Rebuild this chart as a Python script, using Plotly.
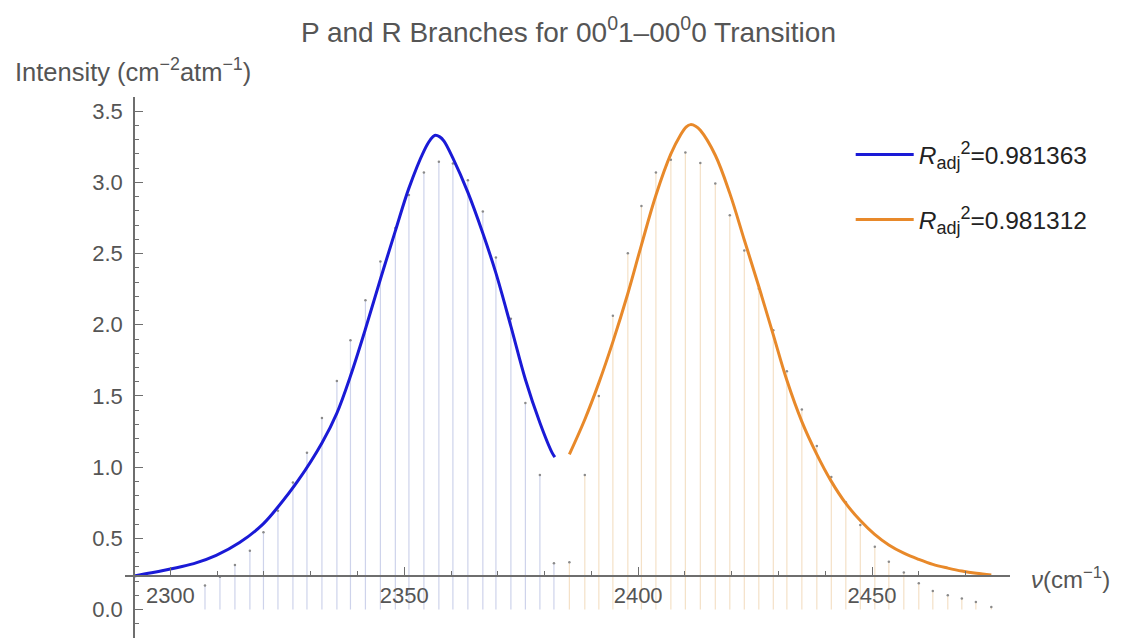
import plotly.graph_objects as go

# P 支 (蓝) 数据点
p_nu = [2307.4, 2310.6, 2313.8, 2317.0, 2319.9, 2323.0, 2326.2, 2329.2, 2332.4, 2335.6,
        2338.5, 2341.7, 2344.9, 2348.1, 2351.0, 2354.2, 2357.4, 2360.4, 2363.6, 2366.8,
        2369.6, 2372.8, 2375.9, 2379.0, 2382.0]
p_int = [0.168, 0.23, 0.313, 0.413, 0.542, 0.693, 0.892, 1.102, 1.345, 1.606,
         1.891, 2.173, 2.444, 2.68, 2.911, 3.07, 3.146, 3.133, 3.016, 2.796,
         2.472, 2.043, 1.45, 0.945, 0.325]

# R 支 (橙) 数据点
r_nu = [2385.3, 2388.6, 2391.6, 2394.6, 2397.8, 2400.7, 2403.8, 2407.0, 2410.1, 2413.3,
        2416.5, 2419.6, 2422.7, 2425.8, 2428.9, 2431.8, 2435.0, 2438.2, 2441.3, 2444.4,
        2447.5, 2450.6, 2453.6, 2456.8, 2460.0, 2463.0, 2466.2, 2469.2, 2472.2, 2475.5]
r_int = [0.332, 0.945, 1.5, 2.064, 2.503, 2.835, 3.07, 3.16, 3.21, 3.137,
         2.993, 2.77, 2.521, 2.253, 1.962, 1.674, 1.405, 1.148, 0.931, 0.754,
         0.593, 0.441, 0.336, 0.26, 0.185, 0.131, 0.1, 0.078, 0.053, 0.017]

# 拟合曲线
p_fit_x = [2292.2, 2296.0, 2300.0, 2305.0, 2309.8, 2314.8, 2319.8, 2323.0, 2327.4, 2332.4,
           2335.6, 2338.5, 2341.7, 2344.9, 2348.1, 2351.0, 2354.2, 2355.6, 2356.5, 2357.6,
           2358.5, 2360.4, 2363.6, 2366.8, 2369.6, 2372.8, 2375.9, 2379.0, 2381.6, 2382.2]
p_fit_y = [0.236, 0.258, 0.285, 0.322, 0.38, 0.47, 0.60, 0.72, 0.91, 1.17,
           1.38, 1.64, 1.97, 2.32, 2.66, 2.96, 3.22, 3.30, 3.33, 3.32,
           3.29, 3.17, 2.93, 2.643, 2.363, 1.989, 1.616, 1.312, 1.102, 1.07]

r_fit_x = [2385.3, 2388.6, 2391.6, 2394.6, 2397.8, 2400.7, 2403.8, 2407.0, 2409.0, 2410.3,
           2411.2, 2412.3, 2413.3, 2416.5, 2419.6, 2422.7, 2425.8, 2428.8, 2431.8, 2435.0,
           2438.2, 2441.3, 2444.4, 2447.5, 2450.5, 2453.6, 2456.8, 2460.0, 2463.0, 2466.2,
           2469.2, 2472.3, 2475.5]
r_fit_y = [1.09, 1.335, 1.592, 1.88, 2.22, 2.56, 2.91, 3.20, 3.33, 3.39,
           3.406, 3.395, 3.366, 3.191, 2.923, 2.596, 2.269, 1.94, 1.61, 1.32,
           1.09, 0.90, 0.745, 0.625, 0.53, 0.454, 0.396, 0.352, 0.317, 0.291,
           0.27, 0.254, 0.242]

r2_labels = ['0.981363', '0.981312']

# 配色
C_BLUE = '#1a1ad6'
C_ORANGE = '#e8892a'
C_STEM_B = 'rgba(190,196,228,0.75)'
C_STEM_O = 'rgba(240,215,180,0.75)'
C_AXIS = '#6e6e6e'
C_TEXT = '#555555'
FONT = 'Liberation Sans, Arial, sans-serif'

X_RANGE = [2290.3, 2479.5]
Y_RANGE = [-0.2, 3.6]
X_ORIGIN = 2292.2
Y_ORIGIN = 0.234


def stems(xs, ys):
    sx, sy = [], []
    for x, y in zip(xs, ys):
        sx += [x, x, None]
        sy += [0, y, None]
    return sx, sy


fig = go.Figure()

for xs, ys, c in [(p_nu, p_int, C_STEM_B), (r_nu, r_int, C_STEM_O)]:
    sx, sy = stems(xs, ys)
    fig.add_trace(go.Scatter(x=sx, y=sy, mode='lines', line=dict(color=c, width=1.2),
                             showlegend=False, hoverinfo='skip'))
    fig.add_trace(go.Scatter(x=xs, y=ys, mode='markers', showlegend=False,
                             marker=dict(color='#8a8a8a', size=2.5)))


def r2_name(v):
    return ('<i>R</i><sub><span style="font-size:18px">adj</span></sub>'
            f'<sup><span style="font-size:18px">2</span></sup>={v}')


fig.add_trace(go.Scatter(
    x=p_fit_x, y=p_fit_y, mode='lines', line=dict(color=C_BLUE, width=3, shape='spline'),
    name=r2_name(r2_labels[0]), legendgroup='a',
))
fig.add_trace(go.Scatter(
    x=r_fit_x, y=r_fit_y, mode='lines', line=dict(color=C_ORANGE, width=3, shape='spline'),
    name=r2_name(r2_labels[1]), legendgroup='b',
))

fig.update_layout(
    width=1121, height=638,
    plot_bgcolor='white', paper_bgcolor='white',
    margin=dict(l=117, r=119, t=89, b=8),
    font=dict(family=FONT, size=20, color=C_TEXT),
    title=dict(text='P and R Branches for 00<sup>0</sup>1\u201300<sup>0</sup>0 Transition',
               x=0.5, xref='container', y=0.962, yref='container', yanchor='middle',
               font=dict(size=28, color=C_TEXT)),
    legend=dict(x=0.82, y=0.935, xanchor='left', yanchor='top', tracegroupgap=30,
                itemwidth=58, bgcolor='rgba(0,0,0,0)', font=dict(size=24.5, color='#222222')),
    showlegend=True,
)

yfrac = (Y_ORIGIN - Y_RANGE[0]) / (Y_RANGE[1] - Y_RANGE[0])
xfrac = (X_ORIGIN - X_RANGE[0]) / (X_RANGE[1] - X_RANGE[0])

fig.update_xaxes(
    range=X_RANGE, showgrid=False, zeroline=False,
    anchor='free', position=yfrac,
    showline=True, linecolor=C_AXIS, linewidth=1.5,
    tickmode='linear', tick0=2300, dtick=50,
    ticks='inside', ticklen=8, tickcolor=C_AXIS, tickwidth=1.3,
    minor=dict(ticks='inside', dtick=10, tick0=2300, ticklen=4, tickcolor=C_AXIS),
    tickfont=dict(size=22, color=C_TEXT),
)
fig.update_yaxes(
    range=Y_RANGE, showgrid=False, zeroline=False,
    anchor='free', position=xfrac,
    showline=True, linecolor=C_AXIS, linewidth=1.5,
    tickmode='linear', tick0=0, dtick=0.5, tickformat='.1f',
    ticks='inside', ticklen=8, tickcolor=C_AXIS, tickwidth=1.3,
    minor=dict(ticks='inside', dtick=0.1, ticklen=4, tickcolor=C_AXIS),
    tickfont=dict(size=22, color=C_TEXT), ticklabelstandoff=6,
)

fig.add_annotation(text='Intensity (cm<sup>\u22122</sup>atm<sup>\u22121</sup>)',
                   xref='paper', yref='paper', x=-0.127, y=1.05,
                   xanchor='left', yanchor='middle', showarrow=False,
                   font=dict(size=25.5, color=C_TEXT))
fig.add_annotation(text='<i>\u03bd</i>(cm<sup>\u22121</sup>)',
                   xref='paper', yref='paper', x=1.022, y=yfrac - 0.004,
                   xanchor='left', yanchor='middle', showarrow=False,
                   font=dict(size=24, color=C_TEXT))

fig.write_html('out.html')
